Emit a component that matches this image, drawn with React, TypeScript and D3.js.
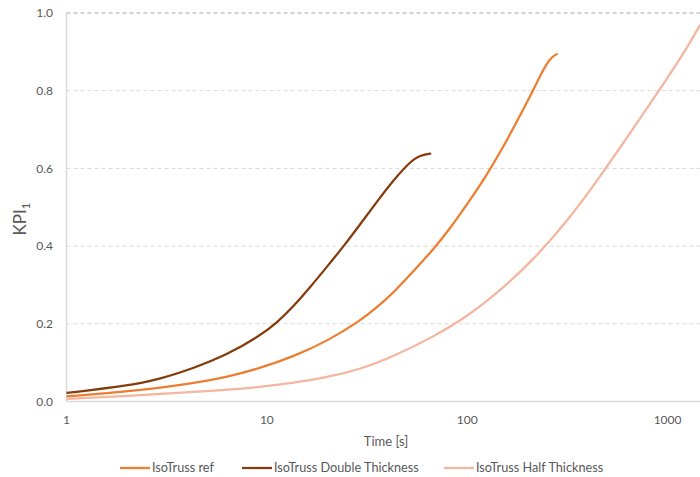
import React from "react";
import * as d3 from "d3";

const W = 700;
const H = 477;

const xTicks = [1, 10, 100, 1000];
const yTicks = [0, 0.2, 0.4, 0.6, 0.8, 1.0];

const refT = [1, 2.01, 2.94, 4.31, 6.33, 9.28, 13.6, 19.97, 29.3, 35.4, 42.9, 56.1, 68.1, 82.5, 99.6, 120.7, 146, 177, 214, 236, 250, 265, 280];
const refV = [0.013, 0.026, 0.035, 0.047, 0.063, 0.086, 0.116, 0.155, 0.208, 0.242, 0.28, 0.345, 0.393, 0.447, 0.507, 0.570, 0.641, 0.72, 0.802, 0.847, 0.870, 0.887, 0.894];

const dblT = [1, 2.01, 2.94, 4.31, 6.33, 9.28, 11.24, 13.6, 16.5, 19.97, 24.2, 29.3, 35.4, 42.9, 52, 58.3, 65.4];
const dblV = [0.022, 0.04, 0.058, 0.086, 0.12, 0.17, 0.203, 0.245, 0.295, 0.347, 0.4, 0.457, 0.514, 0.57, 0.618, 0.634, 0.638];

const halfT = [1, 2.01, 4.31, 9.28, 13.6, 19.97, 29.3, 42.9, 68.1, 99.6, 146, 214, 314, 460, 675, 991, 1200, 1452];
const halfV = [0.007, 0.014, 0.024, 0.037, 0.048, 0.062, 0.083, 0.116, 0.167, 0.218, 0.285, 0.365, 0.462, 0.578, 0.703, 0.83, 0.895, 0.969];

const seriesNames = ["IsoTruss ref", "IsoTruss Double Thickness", "IsoTruss Half Thickness"];
const seriesColors = ["#ED7D31", "#843C0C", "#F4B6A0"];

const FONT = "Lato, 'Open Sans', 'Liberation Sans', sans-serif";

export default function App() {
  const left = 66.5;
  const right = 700;
  const top = 13;
  const bottom = 401.5;

  const x = d3.scaleLog().domain([1, 1452]).range([left, right]);
  const y = d3.scaleLinear().domain([0, 1]).range([bottom, top]);

  const line = d3
    .line<[number, number]>()
    .x((d) => x(d[0]))
    .y((d) => y(d[1]))
    .curve(d3.curveBasis);

  const series = [
    { name: seriesNames[0], color: seriesColors[0], t: refT, v: refV },
    { name: seriesNames[1], color: seriesColors[1], t: dblT, v: dblV },
    { name: seriesNames[2], color: seriesColors[2], t: halfT, v: halfV },
  ];

  const legendX = [120, 242, 444];

  return (
    <svg width={W} height={H} style={{ display: "block", position: "absolute", left: 0, top: 0 }} fontFamily={FONT}>
      <rect width={W} height={H} fill="#fff" />
      <defs>
        <clipPath id="plotclip">
          <rect x={left} y={0} width={right - left} height={bottom + 5} />
        </clipPath>
      </defs>
      {yTicks.map((t) => (
        <g key={t}>
          {t > 0 && (
            <line
              x1={left}
              x2={right}
              y1={y(t)}
              y2={y(t)}
              stroke={t === 1 ? "#A6A6A6" : "#D9D9D9"}
              strokeWidth={1}
              strokeDasharray="4,3"
            />
          )}
          <text x={53} y={y(t)} dy="0.35em" textAnchor="end" fontSize={12} fill="#595959">
            {t.toFixed(1)}
          </text>
        </g>
      ))}
      <line x1={left} x2={left} y1={top} y2={bottom} stroke="#D9D9D9" strokeWidth={1.5} />
      <line x1={left} x2={right} y1={bottom} y2={bottom} stroke="#D9D9D9" strokeWidth={1.5} />
      {xTicks.map((t) => (
        <text key={t} x={x(t)} y={419.5} dy="0.35em" textAnchor="middle" fontSize={12} fill="#595959">
          {t}
        </text>
      ))}
      <text x={386} y={441.5} dy="0.35em" textAnchor="middle" fontSize={13} fill="#595959">
        Time [s]
      </text>
      <text transform="translate(26,219) rotate(-90)" textAnchor="middle" fontSize={17} fill="#595959">
        KPI
        <tspan fontSize={12} dy="4">1</tspan>
      </text>
      <g clipPath="url(#plotclip)">
        {series.map((s) => (
          <path
            key={s.name}
            d={line(s.t.map((t, i) => [t, s.v[i]] as [number, number])) || ""}
            fill="none"
            stroke={s.color}
            strokeWidth={2.25}
            strokeLinecap="round"
            strokeLinejoin="round"
          />
        ))}
      </g>
      {series.map((s, i) => (
        <g key={s.name}>
          <line x1={legendX[i]} x2={legendX[i] + 30} y1={468} y2={468} stroke={s.color} strokeWidth={2.25} />
          <text x={legendX[i] + 32} y={468} dy="0.35em" fontSize={12.7} fill="#595959">
            {s.name}
          </text>
        </g>
      ))}
    </svg>
  );
}
